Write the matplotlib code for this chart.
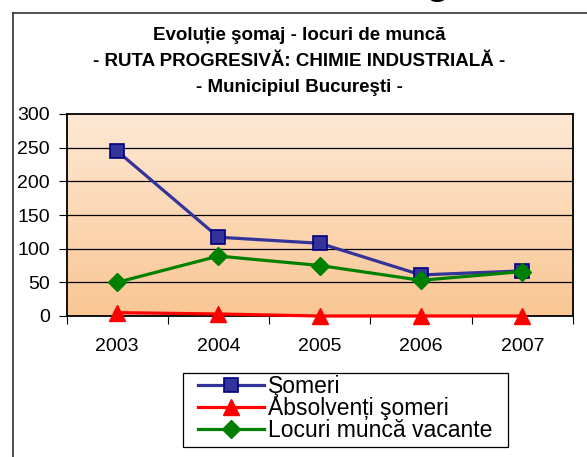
import numpy as np
import matplotlib
matplotlib.use("Agg")
import matplotlib.pyplot as plt
from matplotlib.lines import Line2D
from matplotlib.patches import Rectangle

plt.rcParams["font.family"] = ["Liberation Sans", "DejaVu Sans"]

ANI = ["2003", "2004", "2005", "2006", "2007"]
SOMERI = [245, 117, 108, 61, 67]
ABSOLVENTI = [5, 3, 0, 0, 0]
LOCURI = [50, 89, 75, 53, 66]

TITLU = ["Evoluție şomaj - locuri de muncă",
         "- RUTA PROGRESIVĂ: CHIMIE INDUSTRIALĂ -",
         "- Municipiul Bucureşti -"]

W, H = 587, 457
fig = plt.figure(figsize=(W / 100, H / 100), dpi=100)

# cadrul exterior (taiat sus/stanga)
fig.add_artist(Line2D([13 / W, 1], [1 - 13 / H, 1 - 13 / H], color="#333333", lw=1.2))
fig.add_artist(Line2D([13 / W, 13 / W], [0, 1 - 13 / H], color="#333333", lw=1.2))
fig.text(437 / W, 1 + 6 / H, "g", fontsize=28, fontweight="bold", ha="center", va="baseline")

for t, yc in zip(TITLU, [35, 61, 87]):
    fig.text(299 / W, 1 - yc / H, t, fontsize=13.5, fontweight="bold",
             ha="center", va="center")

left, right, top, bottom = 66.5, 573, 114, 316
ax = fig.add_axes([left / W, 1 - bottom / H, (right - left) / W, (bottom - top) / H])

# fundal degrade
grad = np.linspace(0, 1, 256).reshape(-1, 1)
c_top = np.array([253, 233, 212]) / 255
c_bot = np.array([250, 198, 148]) / 255
img = c_top[None, None, :] * (1 - grad[..., None]) + c_bot[None, None, :] * grad[..., None]
ax.imshow(img, extent=[-0.5, 4.5, 0, 300], aspect="auto", zorder=0, origin="upper")

x = np.arange(len(ANI))
for yv in range(50, 300, 50):
    ax.axhline(yv, color="black", lw=0.9, zorder=1)

ax.plot(x, ABSOLVENTI, color="#ff0000", lw=2.3, marker="^", ms=11,
        mfc="#ff0000", mec="#ff0000", zorder=3, clip_on=False, label="Absolvenți şomeri")
ax.plot(x, SOMERI, color="#333399", lw=2.3, marker="s", ms=10,
        mfc="#333399", mec="#000080", mew=1.2, zorder=4, label="Şomeri")
ax.plot(x, LOCURI, color="#008000", lw=2.3, marker="D", ms=9,
        mfc="#008000", mec="#008000", zorder=5, label="Locuri muncă vacante")

ax.set_xlim(-0.5, 4.5)
ax.set_ylim(0, 300)
ax.set_yticks(range(0, 301, 50))
ax.set_xticks(x)
ax.set_xticklabels(ANI)
ax.set_xticks(np.arange(-0.5, 5, 1), minor=True)
ax.tick_params(axis="x", which="major", length=0, pad=16, labelsize=14)
ax.tick_params(axis="x", which="minor", length=6, width=0.8, direction="out")
ax.tick_params(axis="y", length=6, width=0.8, pad=6, labelsize=14)
for s in ax.spines.values():
    s.set_color("black")
    s.set_linewidth(1.3)

# legenda: chenar separat, ca in original
fig.add_artist(Rectangle((183 / W, 1 - 447 / H), (508 - 183) / W, (447 - 373) / H,
                         transform=fig.transFigure, fill=False, ec="black", lw=0.9))
h, l = ax.get_legend_handles_labels()
order = [1, 0, 2]
leg = fig.legend([h[i] for i in order], [l[i] for i in order],
                 loc="upper left", bbox_to_anchor=(198 / W, 1 - 375 / H),
                 fontsize=16.5, frameon=False,
                 handlelength=2.9, handletextpad=0.15, labelspacing=-0.05,
                 borderpad=0.0, borderaxespad=0)

fig.savefig("out.png", dpi=100)
